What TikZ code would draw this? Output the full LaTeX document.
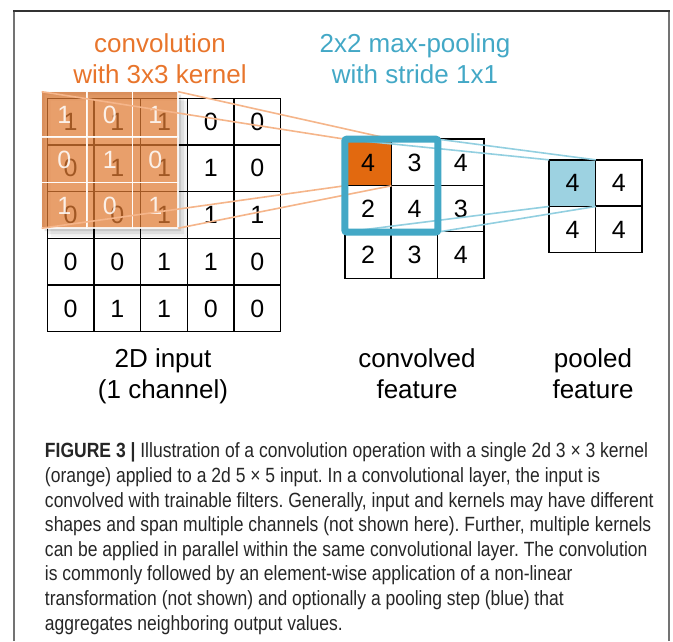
\documentclass[tikz,border=0pt]{standalone}
\usepackage{fontspec}
\setmainfont{Liberation Sans}
\newfontfamily\capfont[FakeStretch=0.85]{Liberation Sans}
\usetikzlibrary{calc}

\definecolor{convorange}{HTML}{E8752C}
\definecolor{kernfill}{HTML}{E07A32}
\definecolor{cellorange}{HTML}{E2690F}
\definecolor{lineorange}{HTML}{F5B58A}
\definecolor{poolblue}{HTML}{43A8C6}
\definecolor{cellblue}{HTML}{9DD2E1}
\definecolor{lineblue}{HTML}{92CFE0}

\begin{document}
\frenchspacing
\begin{tikzpicture}[x=1pt,y=-1pt,
    every node/.style={inner sep=0pt,outer sep=0pt},
    cell/.style={draw=black,line width=1.4pt,fill=white,minimum size=46.6pt,
      font=\fontsize{25}{25}\selectfont},
    kerncell/.style={draw=white,line width=1.5pt,fill=kernfill,fill opacity=0.72,
      draw opacity=0.85,text=white,text opacity=0.85,minimum size=45.5pt,
      font=\fontsize{25}{25}\selectfont},
    convline/.style={lineorange,line width=1.6pt},
    poolline/.style={lineblue,line width=1.6pt},
    title/.style={anchor=base,font=\fontsize{26}{26}\selectfont},
    label/.style={anchor=base,font=\fontsize{26}{26}\selectfont}]
  \useasboundingbox (0,0) rectangle (673,641);
  % frame
  \draw[black!55,line width=2pt] (14,641) -- (14,11);
  \draw[black!55,line width=2pt] (669,641) -- (669,11);
  \draw[black!80,line width=1.5pt] (13,11) -- (670,11);

  % titles
  \node[title,text=convorange] (convtitle) at (160,52) {convolution};
  \node[title,text=convorange] (convtitle2) at (160,83) {with 3x3 kernel};
  \node[title,text=poolblue] (pooltitle) at (415,52) {2x2 max-pooling};
  \node[title,text=poolblue] (pooltitle2) at (415,83) {with stride 1x1};

  % 2d input
  \foreach \row [count=\r] in {{1,1,1,0,0},{0,1,1,1,0},{0,0,1,1,1},{0,0,1,1,0},{0,1,1,0,0}}
    \foreach \v [count=\c] in \row
      \node[cell] (in-\r-\c) at ({47.3+46.7*(\c-0.5)},{98.3+46.7*(\r-0.5)}) {\v};

  % kernel shadow
  \foreach \s/\o in {3/0.10,6/0.08,9/0.05}
    \fill[black,opacity=\o,even odd rule]
      ($(41.7,91.7)+(\s,\s)$) rectangle ($(178.2,228.2)+(\s,\s)$)
      (41.7,91.7) rectangle (178.2,228.2);

  % kernel
  \foreach \row [count=\r] in {{1,0,1},{0,1,0},{1,0,1}}
    \foreach \v [count=\c] in \row
      \node[kerncell] (k-\r-\c) at ({41.7+45.5*(\c-0.5)},{91.7+45.5*(\r-0.5)}) {\v};

  % convolved feature
  \foreach \row [count=\r] in {{4,3,4},{2,4,3},{2,3,4}}
    \foreach \v [count=\c] in \row
      \node[cell] (cv-\r-\c) at ({345+46.3*(\c-0.5)},{139.3+46.3*(\r-0.5)}) {\v};
  \node[cell,fill=cellorange] at (cv-1-1) {4};

  \draw[convline] (k-1-1.north west) -- (cv-1-1.north west);
  \draw[convline] (k-1-3.north east) -- (cv-1-1.north east);
  \draw[convline] (k-3-1.south west) -- (cv-1-1.south west);
  \draw[convline] (k-3-3.south east) -- (cv-1-1.south east);

  % pooled feature
  \foreach \row [count=\r] in {{4,4},{4,4}}
    \foreach \v [count=\c] in \row
      \node[cell] (po-\r-\c) at ({549.3+46.3*(\c-0.5)},{160+46.3*(\r-0.5)}) {\v};
  \node[cell,fill=cellblue] at (po-1-1) {4};

  \draw[poolline] (cv-1-1.north west) -- (po-1-1.north west);
  \draw[poolline] (cv-1-2.north east) -- (po-1-1.north east);
  \draw[poolline] (cv-2-1.south west) -- (po-1-1.south west);
  \draw[poolline] (cv-2-2.south east) -- (po-1-1.south east);
  \draw[poolblue,line width=7pt,rounded corners=2pt]
    (cv-1-1.north west) rectangle (cv-2-2.south east);

  % labels
  \node[label] (inlabel) at (163,367) {2D input};
  \node[label] (inlabel2) at (163,398) {(1 channel)};
  \node[label] (cvlabel) at (417,367) {convolved};
  \node[label] (cvlabel2) at (417,398) {feature};
  \node[label] (polabel) at (593,367) {pooled};
  \node[label] (polabel2) at (593,398) {feature};

  % caption
  \node[anchor=north west,align=left,text=black!85,
    font=\capfont\fontsize{20.6}{24.6}\selectfont] (caption) at (45,443)
    {\textbf{FIGURE 3 |} Illustration of a convolution operation with a single 2d 3 × 3 kernel\\
     (orange) applied to a 2d 5 × 5 input. In a convolutional layer, the input is\\
     convolved with trainable filters. Generally, input and kernels may have different\\
     shapes and span multiple channels (not shown here). Further, multiple kernels\\
     can be applied in parallel within the same convolutional layer. The convolution\\
     is commonly followed by an element-wise application of a non-linear\\
     transformation (not shown) and optionally a pooling step (blue) that\\
     aggregates neighboring output values.};
\end{tikzpicture}
\end{document}
